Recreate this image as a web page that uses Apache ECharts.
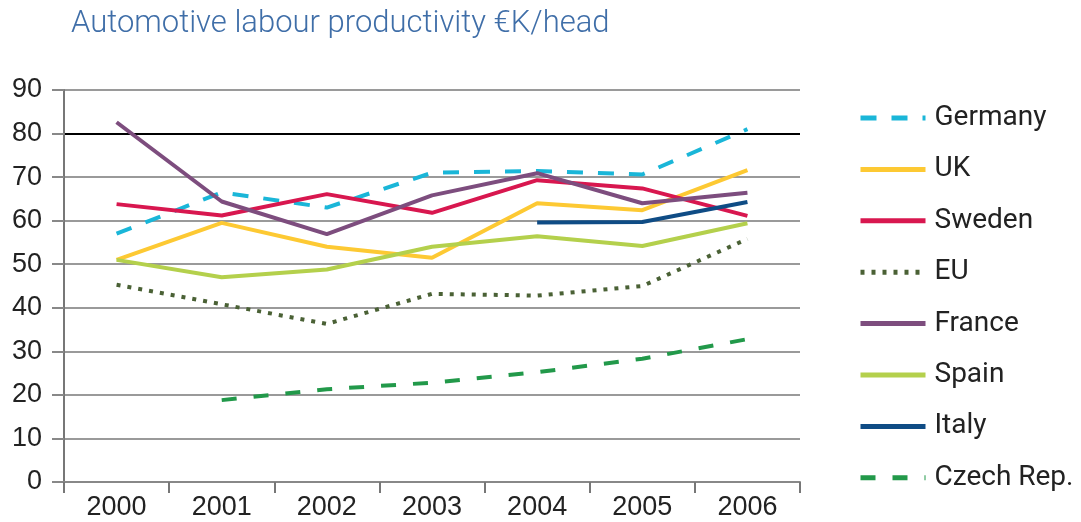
<!DOCTYPE html>
<html>
<head>
<meta charset="utf-8">
<script src="https://cdn.jsdelivr.net/npm/echarts@6/dist/echarts.min.js"></script>
<style>
html,body{margin:0;padding:0;background:#fff;}
#chart{width:1081px;height:522px;}
</style>
</head>
<body>
<div id="chart"></div>
<script>
const years = ['2000','2001','2002','2003','2004','2005','2006'];
const germany = [57, 66.5, 63, 71, 71.4, 70.6, 81];
const uk      = [51, 59.5, 54, 51.5, 64, 62.4, 71.6];
const sweden  = [63.8, 61.2, 66.1, 61.8, 69.3, 67.4, 61.1];
const eu      = [45.3, 40.8, 36.3, 43.2, 42.8, 45, 55.8];
const france  = [82.6, 64.4, 56.9, 65.8, 70.9, 64, 66.4];
const spain   = [51, 47, 48.8, 54, 56.4, 54.2, 59.4];
const italy   = [null, null, null, null, 59.6, 59.7, 64.3];
const czech   = [null, 18.8, 21.3, 22.8, 25.2, 28.3, 32.8];
const yTicks  = [0, 10, 20, 30, 40, 50, 60, 70, 80, 90];

const grid = {left: 64, right: 281, top: 90, bottom: 40};
const gridColors = yTicks.map(v => v === 80 ? '#000000' : '#9a9a9a');

function line(name, data, color, type) {
  return {
    name: name, type: 'line', data: data, symbol: 'none',
    lineStyle: {color: color, width: 4, type: type || 'solid', cap: 'butt'},
    itemStyle: {color: color},
    emphasis: {disabled: true},
    animation: false
  };
}

const chart = echarts.init(document.getElementById('chart'));
chart.setOption({
  backgroundColor: '#ffffff',
  animation: false,
  title: {
    text: 'Automotive labour productivity €K/head',
    left: 66, top: 4,
    textStyle: {fontFamily: 'Roboto', fontWeight: 300, fontSize: 31, color: '#3f6ea8'}
  },
  grid: grid,
  legend: {
    orient: 'vertical', left: 853, top: 98,
    itemWidth: 65, itemHeight: 14, itemGap: 21.4,
    itemStyle: {opacity: 0},
    lineStyle: {width: 5},
    textStyle: {fontFamily: 'Roboto', fontSize: 28, color: '#222', lineHeight: 30, padding: [0,0,0,4]},
    data: ['Germany','UK','Sweden','EU','France','Spain','Italy','Czech Rep.']
  },
  xAxis: {
    type: 'category', data: years, boundaryGap: true,
    axisLine: {lineStyle: {color: '#888', width: 2}},
    axisTick: {show: true, length: 11, lineStyle: {color: '#777', width: 2}},
    axisLabel: {fontFamily: 'Liberation Sans', fontSize: 27, color: '#222', margin: 12},
    splitLine: {show: false}
  },
  yAxis: {
    type: 'value', min: 0, max: 90, interval: 10,
    axisLine: {show: true, lineStyle: {color: '#777', width: 2}},
    axisTick: {show: true, length: 12, lineStyle: {color: '#888', width: 2}},
    axisLabel: {fontFamily: 'Liberation Sans', fontSize: 27, color: '#222', margin: 22},
    splitLine: {show: true, lineStyle: {color: gridColors, width: 2}}
  },
  series: [
    line('Germany', germany, '#1ab6d8', [16, 15]),
    line('UK', uk, '#fdc933'),
    line('Sweden', sweden, '#d8174f'),
    line('EU', eu, '#4a6135', [4, 7]),
    line('France', france, '#7d4d7e'),
    line('Spain', spain, '#b4d04c'),
    line('Italy', italy, '#0f4c85'),
    line('Czech Rep.', czech, '#22994a', [15, 17])
  ]
});
</script>
</body>
</html>
